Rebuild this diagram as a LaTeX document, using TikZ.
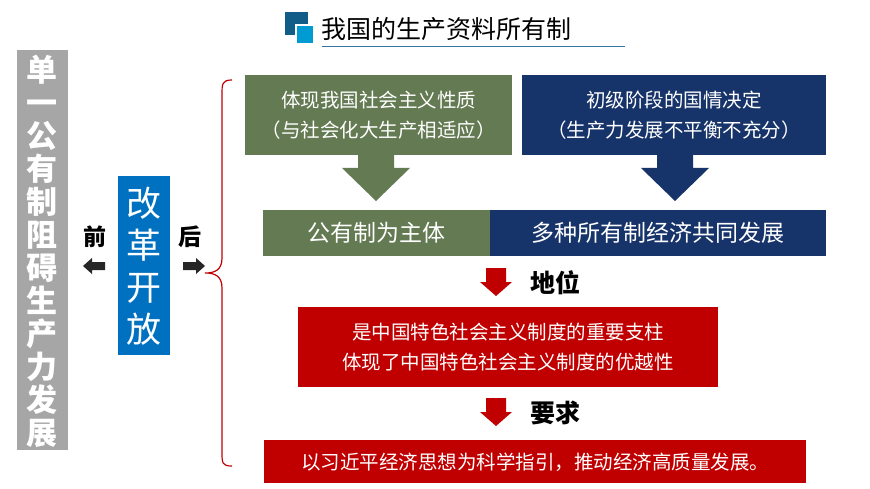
\documentclass[tikz,border=0pt]{standalone}
\usepackage{fontspec}
\setmainfont{Noto Sans CJK SC}
\usetikzlibrary{positioning}
\definecolor{grn}{HTML}{637A52}
\definecolor{navy}{HTML}{17346A}
\definecolor{dred}{HTML}{C00000}
\definecolor{lblue}{HTML}{0070C0}
\newcommand{\downarrowshape}[6]{% x, top, shaft half, head half, head start, tip
  (#1-#3,#2) -- (#1+#3,#2) -- (#1+#3,#5) -- (#1+#4,#5) -- (#1,#6) -- (#1-#4,#5) -- (#1-#3,#5) -- cycle}
\begin{document}
\begin{tikzpicture}[x=1pt,y=-1pt]
        \tikzset{box/.style = {inner sep=0pt,text=white,align=center,font=\fontsize{19.5}{30}\selectfont}}
        \tikzset{head/.style = {font=\bfseries\fontsize{25}{25}\selectfont,anchor=west}}
        \useasboundingbox (0,0) rectangle (870,489);
        % title
        \fill[navy!80!cyan] (285,12) rectangle (308,35);
        \fill[white] (295,24) rectangle (315,45);
        \fill[lblue!70!cyan] (297,26) rectangle (313,43);
        \node[anchor=west,font=\fontsize{25}{25}\selectfont] (title) at (318,29) {我国的生产资料所有制};
        \draw[lblue!60!gray,line width=1pt] (322,47) -- (625,47);
        % left side
        \fill[gray!70] (17,50) rectangle (68,450);
        \node[align=center,text=white,font=\bfseries\fontsize{31}{33}\selectfont] (single) at (42,251)
            {单\\一\\公\\有\\制\\阻\\碍\\生\\产\\力\\发\\展};
        \fill[lblue] (118,176) rectangle (170,355);
        \node[align=center,text=white,font=\fontsize{35}{42}\selectfont] (reform) at (144,266) {改\\革\\开\\放};
        \node[font=\bfseries\fontsize{23}{23}\selectfont] (before) at (95,237) {前};
        \node[font=\bfseries\fontsize{23}{23}\selectfont] (after) at (190,237) {后};
        \fill[black!85] (105,262) -- (92,262) -- (92,258) -- (83,266) -- (92,274) -- (92,270) -- (105,270) -- cycle;
        \fill[black!85] (183,262) -- (196,262) -- (196,258) -- (205,266) -- (196,274) -- (196,270) -- (183,270) -- cycle;
        % brace
        \draw[dred,line width=1.2pt] (232,80) .. controls (222,80) and (222,84) .. (222,95)
            -- (222,258) .. controls (222,270) and (215,273) .. (205,273)
            .. controls (215,273) and (222,276) .. (222,288)
            -- (222,452) .. controls (222,463) and (222,466) .. (232,466);
        % top boxes
        \fill[grn] (245,75) rectangle (512,155);
        \node[box] (nature) at (378.5,115) {体现我国社会主义性质\\（与社会化大生产相适应）};
        \fill[navy] (522,75) rectangle (826,155);
        \node[box] (stage) at (674,115) {初级阶段的国情决定\\（生产力发展不平衡不充分）};
        \fill[grn] \downarrowshape{376}{155}{18}{34}{168}{201};
        \fill[navy] \downarrowshape{675}{155}{18}{34}{168}{201};
        % system bar
        \fill[grn] (263,210) rectangle (490,256);
        \fill[navy] (490,210) rectangle (826,256);
        \node[box,font=\fontsize{23}{23}\selectfont] (public) at (376,233) {公有制为主体};
        \node[box,font=\fontsize{23}{23}\selectfont] (multi) at (658,233) {多种所有制经济共同发展};
        % status
        \fill[dred] \downarrowshape{496}{268}{10}{16}{282}{296};
        \node[head] (status) at (527,283) {地位};
        \fill[dred] (298,307) rectangle (718,387);
        \node[box] (pillar) at (508,347) {是中国特色社会主义制度的重要支柱\\体现了中国特色社会主义制度的优越性};
        % requirement
        \fill[dred] \downarrowshape{496}{398}{10}{16}{412}{426};
        \node[head] (require) at (527,413) {要求};
        \fill[dred] (264,440) rectangle (806,483);
        \node[box] (guide) at (535,462) {以习近平经济思想为科学指引，推动经济高质量发展。};
\end{tikzpicture}
\end{document}
